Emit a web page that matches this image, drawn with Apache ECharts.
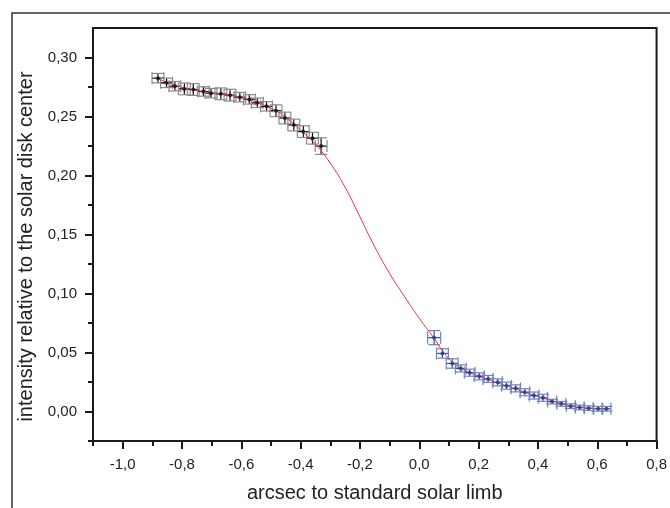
<!DOCTYPE html>
<html>
<head>
<meta charset="utf-8">
<script src="https://cdn.jsdelivr.net/npm/echarts@6/dist/echarts.min.js"></script>
<style>html,body{margin:0;padding:0;background:#fff}#c{width:670px;height:508px}</style>
</head>
<body>
<div id="c"></div>
<script>
// ---- data ----
var blackX = [-0.881,-0.852,-0.824,-0.792,-0.762,-0.728,-0.702,-0.669,-0.638,-0.605,-0.573,-0.546,-0.515,-0.483,-0.453,-0.423,-0.391,-0.360,-0.331];
var blackY = [0.2825,0.2785,0.2757,0.2734,0.2729,0.2712,0.2698,0.2692,0.2681,0.2664,0.2645,0.2616,0.2586,0.2549,0.2487,0.2428,0.2372,0.2316,0.2249];
var blackXErr = [0.02,0.02,0.02,0.02,0.02,0.02,0.02,0.02,0.02,0.02,0.02,0.02,0.02,0.02,0.02,0.02,0.02,0.02,0.02];
var blackYErr = [0.004,0.004,0.004,0.005,0.005,0.004,0.004,0.005,0.005,0.004,0.004,0.004,0.004,0.005,0.005,0.005,0.005,0.005,0.007];

var blueX = [0.050,0.078,0.111,0.140,0.170,0.202,0.232,0.264,0.294,0.325,0.356,0.387,0.417,0.448,0.479,0.511,0.541,0.571,0.603,0.631];
var blueY = [0.0626,0.0492,0.0407,0.0365,0.0329,0.0298,0.0276,0.0247,0.0219,0.0196,0.0163,0.0135,0.0116,0.0084,0.0065,0.0045,0.0034,0.0028,0.0023,0.0023];
var blueXErr = [0.022,0.02,0.02,0.018,0.018,0.017,0.017,0.016,0.016,0.016,0.016,0.016,0.015,0.015,0.015,0.015,0.015,0.015,0.015,0.015];
var blueYErr = [0.006,0.004,0.004,0.003,0.003,0.003,0.003,0.003,0.003,0.003,0.003,0.003,0.003,0.002,0.002,0.002,0.002,0.002,0.002,0.002];

var fitX = [-0.881,-0.80,-0.70,-0.60,-0.50,-0.45,-0.40,-0.35,-0.30,-0.25,-0.20,-0.15,-0.10,-0.05,0.00,0.05,0.078,0.111,0.140,0.200,0.300,0.400,0.500,0.550,0.631];
var fitY = [0.2820,0.2748,0.2700,0.2658,0.2570,0.2490,0.2385,0.2265,0.2105,0.1900,0.1650,0.1395,0.1170,0.0975,0.0790,0.0620,0.0515,0.0420,0.0367,0.0300,0.0212,0.0128,0.0055,0.0033,0.0022];

var xMajorLabels = [-1.0,-0.8,-0.6,-0.4,-0.2,0.0,0.2,0.4,0.6,0.8];
var xMinorTicks = [-1.1,-0.9,-0.7,-0.5,-0.3,-0.1,0.1,0.3,0.5,0.7];
var yMajorLabels = [0.00,0.05,0.10,0.15,0.20,0.25,0.30];
var yMinorTicks = [-0.025,0.025,0.075,0.125,0.175,0.225,0.275];

function zip(a,b,c,d){var r=[];for(var i=0;i<a.length;i++)r.push([a[i],b[i],c[i],d[i]]);return r;}
function pts(a,b){var r=[];for(var i=0;i<a.length;i++)r.push([a[i],b[i]]);return r;}
function fmt(v,d){return v.toFixed(d).replace('.',',');}

var FONT = 'Liberation Sans, Arial, sans-serif';
var chart = echarts.init(document.getElementById('c'), null, {renderer:'canvas'});

function errRender(crossColor, capColor){
  return function(params, api){
    var x=api.value(0), y=api.value(1), ex=api.value(2), ey=api.value(3);
    var l=api.coord([x-ex,y]), r=api.coord([x+ex,y]);
    var t=api.coord([x,y+ey]), b=api.coord([x,y-ey]);
    var cap=6;
    var cs={stroke:capColor,lineWidth:1.2};
    var ls={stroke:crossColor,lineWidth:1.2};
    return {type:'group',children:[
      {type:'line',shape:{x1:l[0],y1:l[1],x2:r[0],y2:r[1]},style:ls},
      {type:'line',shape:{x1:t[0],y1:t[1],x2:b[0],y2:b[1]},style:ls},
      {type:'line',shape:{x1:l[0],y1:l[1]-cap,x2:l[0],y2:l[1]+cap},style:cs},
      {type:'line',shape:{x1:r[0],y1:r[1]-cap,x2:r[0],y2:r[1]+cap},style:cs},
      {type:'line',shape:{x1:t[0]-cap,y1:t[1],x2:t[0]+cap,y2:t[1]},style:cs},
      {type:'line',shape:{x1:b[0]-cap,y1:b[1],x2:b[0]+cap,y2:b[1]},style:cs}
    ]};
  };
}

var axisCol = '#1a1a1a';
var labelCol = '#222';

var option = {
  animation:false,
  backgroundColor:'#fff',
  grid:{left:93,top:28,width:564,height:418,show:true,borderColor:axisCol,borderWidth:2,backgroundColor:'transparent'},
  graphic:[{type:'rect',shape:{x:12,y:13,width:720,height:560},style:{fill:'none',stroke:'#333',lineWidth:1.5},silent:true}],
  xAxis:[
    {type:'value',min:-1.1,max:0.8,interval:0.1,position:'bottom',
     axisLine:{show:true,onZero:false,lineStyle:{color:axisCol,width:2}},
     axisTick:{show:true,inside:false,length:8,lineStyle:{color:axisCol,width:2},customValues:xMajorLabels},
     axisLabel:{show:true,customValues:xMajorLabels,margin:16,fontSize:15,color:labelCol,fontFamily:FONT,formatter:function(v){return fmt(v,1);}},
     splitLine:{show:false},
     name:'arcsec to standard solar limb',nameLocation:'middle',nameGap:42,
     nameTextStyle:{fontSize:20,color:'#222',fontFamily:FONT}},
    {type:'value',min:-1.1,max:0.8,interval:0.1,position:'bottom',gridIndex:0,
     axisLine:{show:false,onZero:false},
     axisTick:{show:true,length:5,lineStyle:{color:axisCol,width:2},customValues:xMinorTicks},
     axisLabel:{show:false},splitLine:{show:false}}
  ],
  yAxis:[
    {type:'value',min:-0.025,max:0.325,interval:0.025,position:'left',
     axisLine:{show:true,onZero:false,lineStyle:{color:axisCol,width:2}},
     axisTick:{show:true,length:8,lineStyle:{color:axisCol,width:2},customValues:yMajorLabels},
     axisLabel:{show:true,customValues:yMajorLabels,margin:16,fontSize:15,color:labelCol,fontFamily:FONT,formatter:function(v){return fmt(v,2);}},
     splitLine:{show:false},
     name:'intensity relative to the solar disk center',nameLocation:'middle',nameGap:57,
     nameTextStyle:{fontSize:20,color:'#222',fontFamily:FONT,padding:[0,24,0,0]}},
    {type:'value',min:-0.025,max:0.325,interval:0.025,position:'left',
     axisLine:{show:false,onZero:false},
     axisTick:{show:true,length:5,lineStyle:{color:axisCol,width:2},customValues:yMinorTicks},
     axisLabel:{show:false},splitLine:{show:false}}
  ],
  series:[
    {type:'custom',name:'black err',xAxisIndex:0,yAxisIndex:0,renderItem:errRender('#111','#8a8a8a'),
     data:zip(blackX,blackY,blackXErr,blackYErr),z:3,encode:{x:0,y:1}},
    {type:'custom',name:'blue err',xAxisIndex:0,yAxisIndex:0,renderItem:errRender('#2d4f9e','#6a86c4'),
     data:zip(blueX,blueY,blueXErr,blueYErr),z:3,encode:{x:0,y:1}},
    {type:'line',name:'fit',data:pts(fitX,fitY),smooth:0.5,showSymbol:false,symbol:'none',
     lineStyle:{color:'#e0393e',width:1},z:4},
    {type:'scatter',name:'black',data:pts(blackX,blackY),symbol:'circle',symbolSize:4,
     itemStyle:{color:'#111'},z:5},
    {type:'scatter',name:'blue',data:pts(blueX,blueY),symbol:'circle',symbolSize:4,
     itemStyle:{color:'#1f3f8f'},z:5}
  ]
};
chart.setOption(option);
</script>
</body>
</html>
